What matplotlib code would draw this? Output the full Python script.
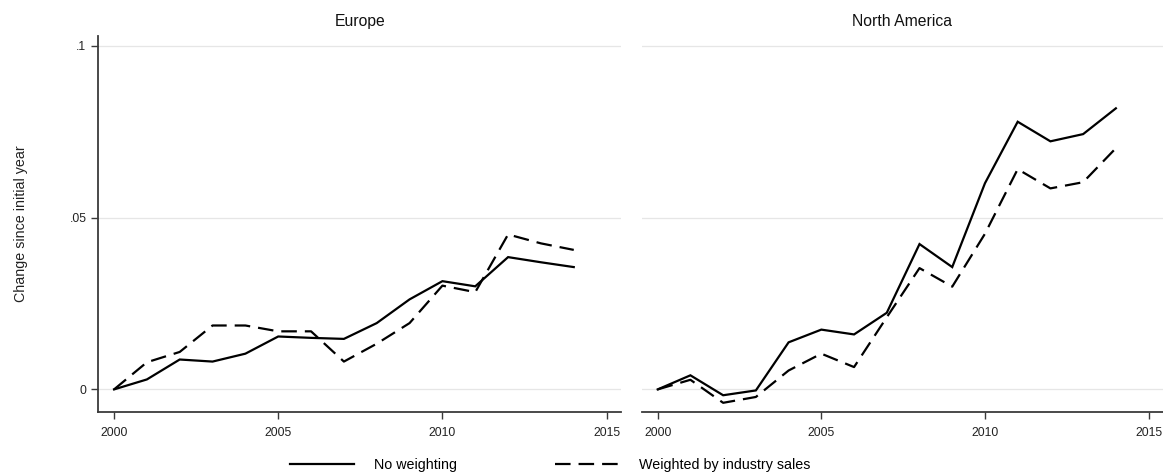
import matplotlib
matplotlib.use("Agg")
import matplotlib.pyplot as plt
from matplotlib.lines import Line2D

plt.rcParams['font.family'] = ['Liberation Sans', 'DejaVu Sans']

# data
years = list(range(2000, 2015))
europe_none = [0.0, 0.0029, 0.0087, 0.0081, 0.0104, 0.0154, 0.0150, 0.0147,
               0.0193, 0.0262, 0.0315, 0.0300, 0.0385, 0.0370, 0.0356]
europe_sales = [0.0, 0.0079, 0.0109, 0.0186, 0.0186, 0.0169, 0.0169, 0.0081,
                0.0133, 0.0193, 0.0302, 0.0283, 0.0451, 0.0425, 0.0406]
na_none = [0.0, 0.0041, -0.0017, -0.0003, 0.0137, 0.0174, 0.0160, 0.0223,
           0.0423, 0.0356, 0.0600, 0.0779, 0.0722, 0.0743, 0.0818]
na_sales = [0.0, 0.0028, -0.0039, -0.0022, 0.0055, 0.0104, 0.0065, 0.0210,
            0.0353, 0.0299, 0.0453, 0.0641, 0.0585, 0.0603, 0.0702]

panels = ['Europe', 'North America']
x_ticks = [2000, 2005, 2010, 2015]
y_ticks = [0, 0.05, 0.1]
y_tick_labels = ['0', '.05', '.1']

fig = plt.figure(figsize=(11.63, 4.76), dpi=100)
ax_eu = fig.add_axes([0.0845, 0.135, 0.4495, 0.789])
ax_na = fig.add_axes([0.552, 0.135, 0.448, 0.789], sharey=ax_eu)

dash = (0, (7, 3.6))
spine_col = '#3a3a3a'

for ax, title, s_none, s_sales in [(ax_eu, panels[0], europe_none, europe_sales),
                                   (ax_na, panels[1], na_none, na_sales)]:
    ax.plot(years, s_none, color='black', lw=1.6, solid_joinstyle='miter')
    ax.plot(years, s_sales, color='black', lw=1.6, linestyle=dash)
    ax.set_xlim(1999.52, 2015.44)
    ax.set_ylim(-0.0065, 0.1028)
    ax.set_xticks(x_ticks)
    ax.set_yticks(y_ticks)
    ax.grid(axis='y', color='#e6e6e6', lw=0.9)
    ax.grid(axis='x', visible=False)
    ax.set_axisbelow(True)
    for side in ['top', 'right']:
        ax.spines[side].set_visible(False)
    ax.spines['bottom'].set_color(spine_col)
    ax.spines['bottom'].set_linewidth(1.3)
    ax.spines['left'].set_color(spine_col)
    ax.spines['left'].set_linewidth(1.3)
    ax.tick_params(axis='both', direction='out', length=5, width=1.0,
                   color=spine_col, labelsize=8.8, labelcolor='#222222')
    ax.tick_params(axis='x', pad=6)
    ax.set_title(title, fontsize=11.3, color='#111111', pad=7)

ax_eu.set_yticklabels(y_tick_labels)
ax_eu.set_ylabel('Change since initial year', fontsize=10.3, color='#222222')
ax_eu.yaxis.set_label_coords(-0.135, 0.5)

ax_na.spines['left'].set_visible(False)
ax_na.tick_params(axis='y', left=False, labelleft=False)

handles = [Line2D([], [], color='black', lw=1.6),
           Line2D([], [], color='black', lw=1.6, linestyle=dash)]
fig.legend(handles, ['No weighting', 'Weighted by industry sales'],
           loc='center', bbox_to_anchor=(0.473, 0.024), ncol=2, frameon=False,
           fontsize=10.3, handlelength=4.5, handletextpad=1.4, columnspacing=6.8)

fig.savefig('out.png', dpi=100)
